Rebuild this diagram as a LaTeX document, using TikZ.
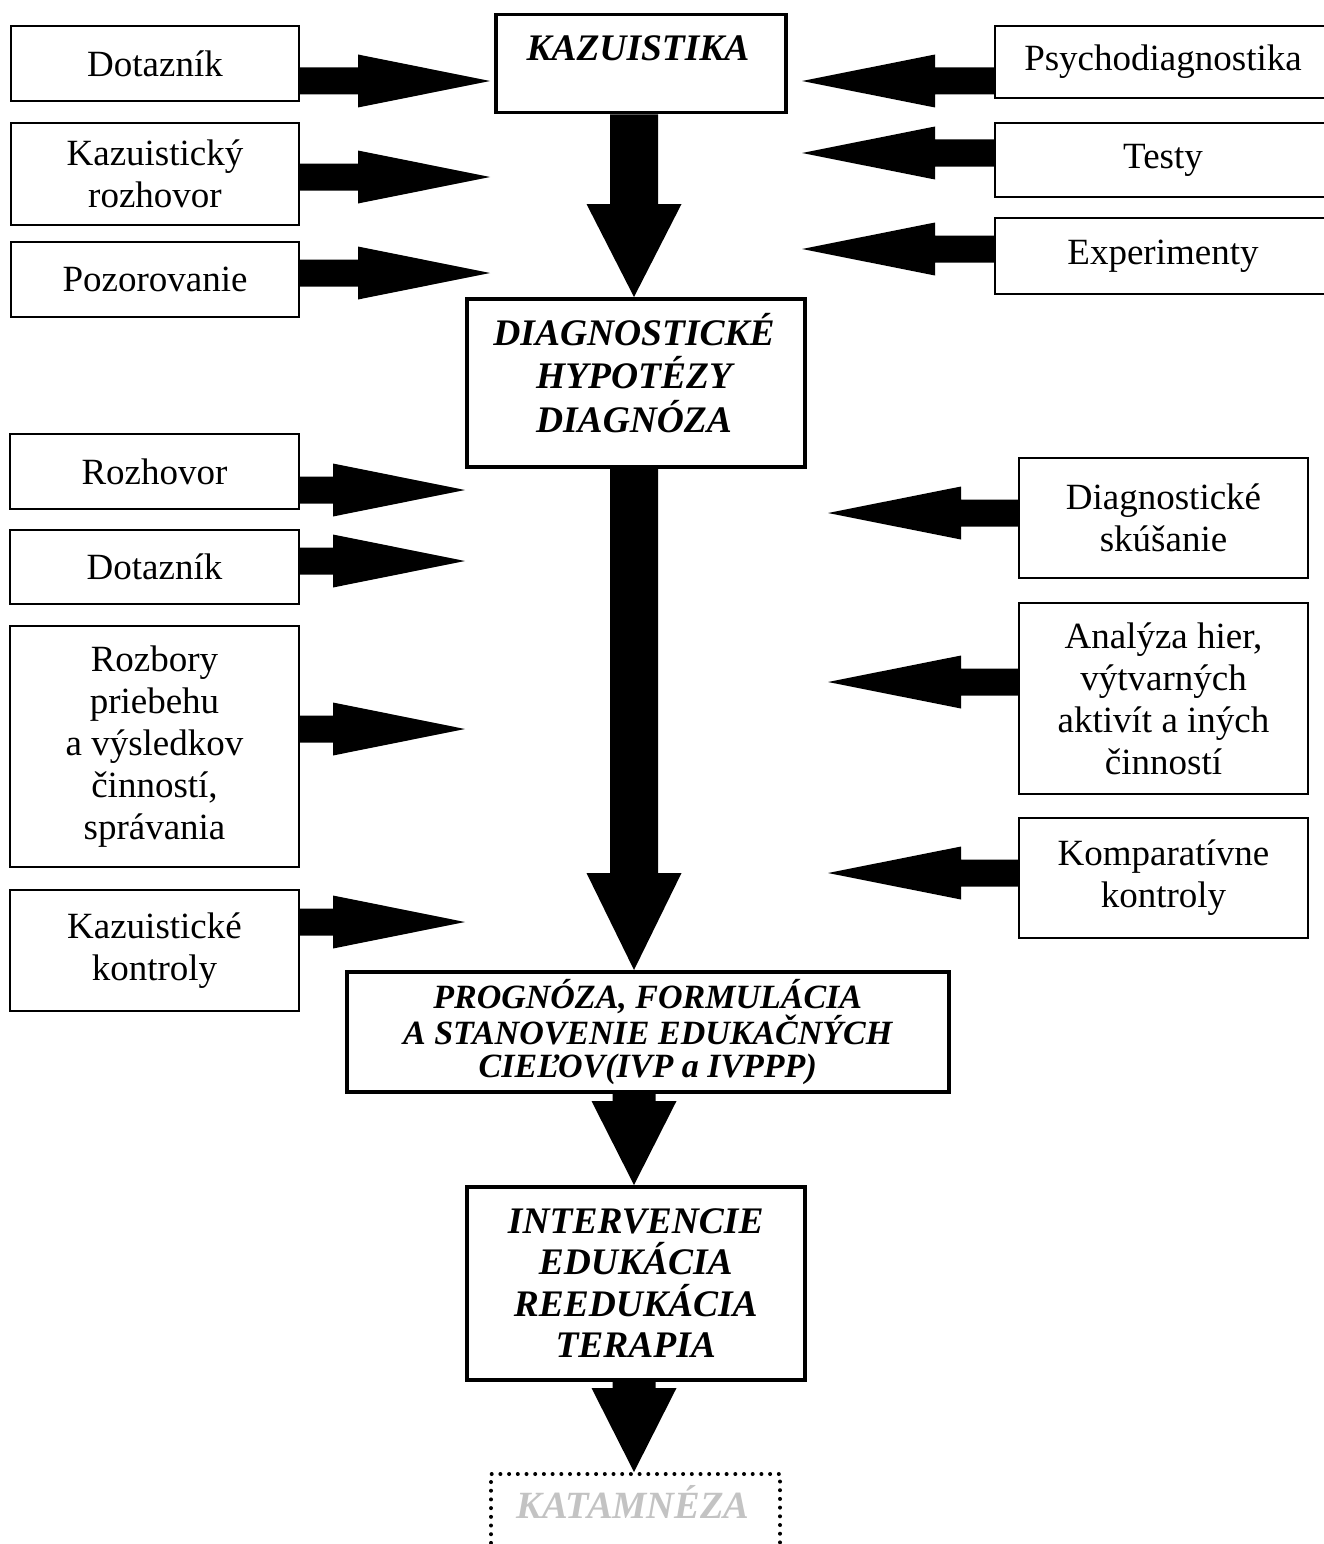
\documentclass[tikz,border=0pt]{standalone}
\usepackage{fontspec}
\setmainfont{Liberation Serif}
\usetikzlibrary{calc}
\definecolor{katgray}{RGB}{195,195,195}
% horizontal block arrow pointing right: #1 start, #2 tip
\newcommand\arrR[2]{\fill let \p1=(#1), \p2=(#2) in (\x1,\y2+13.5pt) -- (\x2-132pt,\y2+13.5pt) -- (\x2-132pt,\y2+26.5pt) -- (\x2,\y2) -- (\x2-132pt,\y2-26.5pt) -- (\x2-132pt,\y2-13.5pt) -- (\x1,\y2-13.5pt) -- cycle;}
% horizontal block arrow pointing left
\newcommand\arrL[2]{\fill let \p1=(#1), \p2=(#2) in (\x1,\y2+13.5pt) -- (\x2+133pt,\y2+13.5pt) -- (\x2+133pt,\y2+26.5pt) -- (\x2,\y2) -- (\x2+133pt,\y2-26.5pt) -- (\x2+133pt,\y2-13.5pt) -- (\x1,\y2-13.5pt) -- cycle;}
% vertical block arrow pointing down: #1 start, #2 tip, #3 shaft half, #4 head half, #5 head length
\newcommand\arrD[5]{\fill let \p1=(#1), \p2=(#2) in (\x2-#3,\y1) -- (\x2-#3,\y2+#5) -- (\x2-#4,\y2+#5) -- (\x2,\y2) -- (\x2+#4,\y2+#5) -- (\x2+#3,\y2+#5) -- (\x2+#3,\y1) -- cycle;}
\begin{document}
\begin{tikzpicture}[x=1pt,y=-1pt,
  sbox/.style={draw, line width=2pt, inner sep=0pt, anchor=north west, align=center,
    font=\fontsize{37}{42}\selectfont},
  mbox/.style={draw, line width=3.5pt, inner sep=0pt, anchor=north west, align=center,
    font=\fontsize{37.5}{41.5}\selectfont\bfseries\itshape},
  btext/.style={inner sep=0pt, align=center, font=\fontsize{37.5}{43.5}\selectfont\bfseries\itshape}]
\useasboundingbox (0,0) rectangle (1323,1544);
\fill[white] (0,0) rectangle (1323,1544);

% left top boxes
\node[sbox, minimum width=288pt, minimum height=75pt] (dot1) at (10,25) {Dotazník};
\node[sbox, minimum width=288pt, minimum height=102pt] (kr) at (10,122) {Kazuistický\\rozhovor};
\node[sbox, minimum width=288pt, minimum height=75pt] (poz) at (10,241) {Pozorovanie};
% left lower boxes
\node[sbox, minimum width=289pt, minimum height=75pt] (roz) at (9,433) {Rozhovor};
\node[sbox, minimum width=289pt, minimum height=74pt] (dot2) at (9,529) {Dotazník};
\node[sbox, minimum width=289pt, minimum height=241pt] (rozb) at (9,625) {Rozbory\\priebehu\\a výsledkov\\činností,\\správania};
\node[sbox, minimum width=289pt, minimum height=121pt] (kk) at (9,889) {Kazuistické\\kontroly};
% right top boxes
\node[sbox, minimum width=336pt, minimum height=72pt] (psy) at (994,25) {Psychodiagnostika};
\node[sbox, minimum width=336pt, minimum height=74pt] (tes) at (994,122) {Testy};
\node[sbox, minimum width=336pt, minimum height=76pt] (exp) at (994,217) {Experimenty};
% right lower boxes
\node[sbox, minimum width=289pt, minimum height=120pt] (dsk) at (1018,457) {Diagnostické\\skúšanie};
\node[sbox, minimum width=289pt, minimum height=191pt] (ana) at (1018,602) {Analýza hier,\\výtvarných\\aktivít a iných\\činností};
\node[sbox, minimum width=289pt, minimum height=120pt] (kom) at (1018,817) {Komparatívne\\kontroly};

% main column
\node[mbox, minimum width=290pt, minimum height=98pt] (kaz) at (494,13) {};
\node[btext, anchor=base] (kazt) at (638,61) {KAZUISTIKA};
\node[mbox, minimum width=338pt, minimum height=168pt] (diag) at (465,297) {};
\node[btext] (diagt) at (634,373) {DIAGNOSTICKÉ\\HYPOTÉZY\\DIAGNÓZA};
\node[mbox, minimum width=602pt, minimum height=120pt,
  font=\fontsize{34}{33}\selectfont\bfseries\itshape] (prog) at (345,970)
  {PROGNÓZA, FORMULÁCIA\\A STANOVENIE EDUKAČNÝCH\\CIEĽOV(IVP a IVPPP)};
\node[mbox, minimum width=338pt, minimum height=193pt] (interv) at (465,1185)
  {INTERVENCIE\\EDUKÁCIA\\REEDUKÁCIA\\TERAPIA};
\node[draw, dash pattern=on 0pt off 8.7pt, line cap=round, line width=4pt, inner sep=0pt,
  anchor=north west, minimum width=289pt, minimum height=110pt] (kat) at (489,1472) {};
\node[btext, anchor=base, text=katgray, font=\fontsize{38.5}{43}\selectfont\bfseries\itshape] (katt) at (633,1518) {KATAMNÉZA};

% tip coordinates
\coordinate (ax) at (634,0);
\coordinate (t1) at (490,81);
\coordinate (t2) at (490,177);
\coordinate (t3) at (490,273);
\coordinate (t4) at (465,490);
\coordinate (t5) at (465,561);
\coordinate (t6) at (465,729);
\coordinate (t7) at (465,922);
\coordinate (r1) at (802,81);
\coordinate (r2) at (802,153);
\coordinate (r3) at (802,249);
\coordinate (r4) at (828,513);
\coordinate (r5) at (828,682);
\coordinate (r6) at (828,873);

% left arrows
\arrR{dot1.east}{t1}
\arrR{kr.east}{t2}
\arrR{poz.east}{t3}
\arrR{roz.east}{t4}
\arrR{dot2.east}{t5}
\arrR{rozb.east}{t6}
\arrR{kk.east}{t7}
% right arrows
\arrL{psy.west}{r1}
\arrL{tes.west}{r2}
\arrL{exp.west}{r3}
\arrL{dsk.west}{r4}
\arrL{ana.west}{r5}
\arrL{kom.west}{r6}
% down arrows
\arrD{kaz.south -| ax}{diag.north -| ax}{24pt}{47.5pt}{93pt}
\arrD{diag.south -| ax}{prog.north -| ax}{24pt}{47.5pt}{97pt}
\arrD{prog.south -| ax}{interv.north -| ax}{21.5pt}{42.5pt}{84pt}
\arrD{interv.south -| ax}{kat.north -| ax}{21.5pt}{42.5pt}{84pt}
\end{tikzpicture}
\end{document}
